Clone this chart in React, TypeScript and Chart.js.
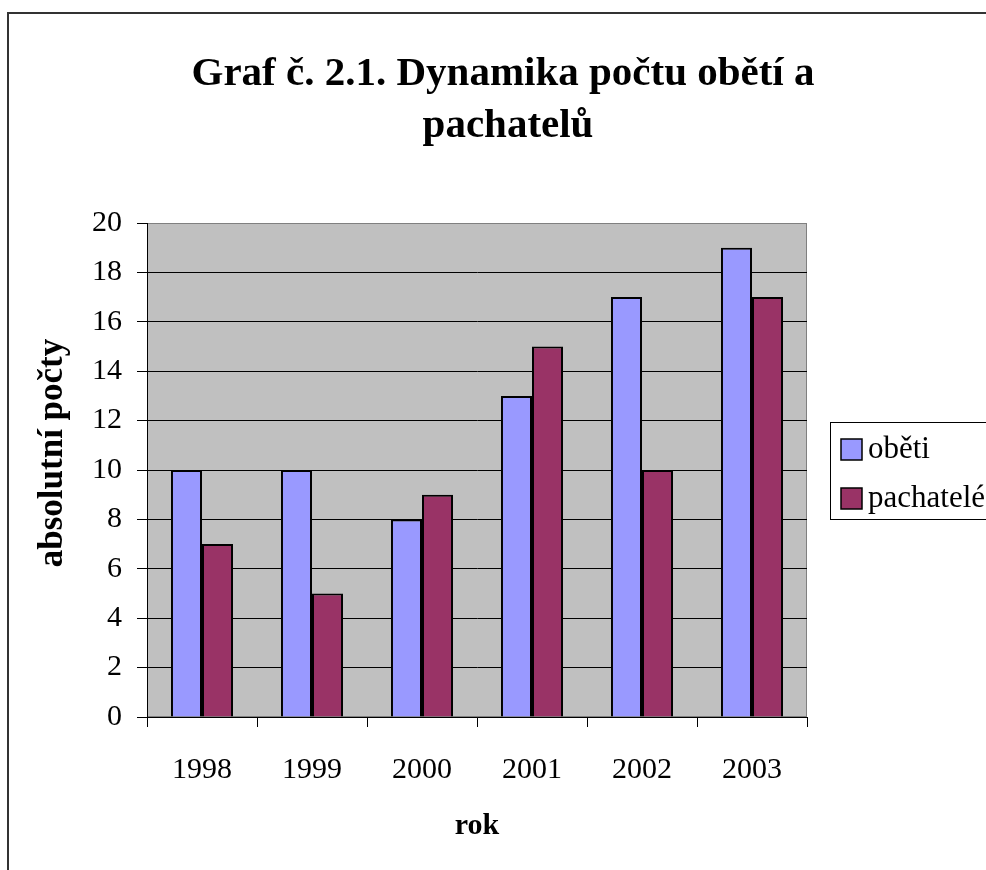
import React, { useEffect, useRef } from 'react';
import { Chart, registerables } from 'chart.js';

Chart.register(...registerables);

const years = ['1998', '1999', '2000', '2001', '2002', '2003'];
const obeti = [10, 10, 8, 13, 17, 19];
const pachatele = [7, 5, 9, 15, 10, 17];
const seriesNames = ['oběti', 'pachatelé'];
const seriesColors = ['#9999FF', '#993366'];
const titleLines = ['Graf č. 2.1. Dynamika počtu obětí a', 'pachatelů'];
const xTitle = 'rok';
const yTitle = 'absolutní počty';
const yMin = 0;
const yMax = 20;
const yStep = 2;

const SERIF = '"Liberation Serif", "Times New Roman", serif';

const decorPlugin = {
  id: 'decor',
  beforeDraw(chart: any) {
    const { ctx, chartArea: a, width, height } = chart;
    ctx.save();
    ctx.fillStyle = '#ffffff';
    ctx.fillRect(0, 0, width, height);
    // outer chart frame (cropped at right and bottom)
    ctx.strokeStyle = '#333333';
    ctx.lineWidth = 2;
    ctx.strokeRect(8, 13, width + 20, height + 20);
    // plot area background
    ctx.fillStyle = '#C0C0C0';
    ctx.fillRect(a.left, a.top, a.right - a.left, a.bottom - a.top);
    ctx.strokeStyle = '#808080';
    ctx.lineWidth = 1;
    ctx.strokeRect(a.left + 0.5, a.top + 0.5, a.right - a.left - 1, a.bottom - a.top - 1);
    ctx.restore();
  },
  afterDraw(chart: any) {
    const { ctx } = chart;
    ctx.save();
    ctx.fillStyle = '#000000';
    // title
    ctx.font = `bold 41px ${SERIF}`;
    ctx.textAlign = 'center';
    ctx.textBaseline = 'alphabetic';
    ctx.fillText(titleLines[0], 503, 85);
    ctx.fillText(titleLines[1], 508, 137);
    // y axis title
    ctx.save();
    ctx.translate(53, 453);
    ctx.rotate(-Math.PI / 2);
    ctx.font = `bold 35px ${SERIF}`;
    ctx.textAlign = 'center';
    ctx.textBaseline = 'middle';
    ctx.fillText(yTitle, 0, 0);
    ctx.restore();
    // legend
    ctx.strokeStyle = '#000000';
    ctx.lineWidth = 1;
    ctx.strokeRect(830.5, 422.5, 200, 97);
    const ds = chart.data.datasets;
    const baselines = [458, 507];
    ds.forEach((d: any, i: number) => {
      const by = baselines[i];
      ctx.fillStyle = d.backgroundColor;
      ctx.fillRect(841, by - 19, 21, 21);
      ctx.lineWidth = 1.5;
      ctx.strokeStyle = '#000000';
      ctx.strokeRect(841, by - 19, 21, 21);
      ctx.fillStyle = '#000000';
      ctx.font = `31px ${SERIF}`;
      ctx.textAlign = 'left';
      ctx.textBaseline = 'alphabetic';
      ctx.fillText(d.label, 868, by);
    });
    ctx.restore();
  },
};

export default function App() {
  const canvasRef = useRef<HTMLCanvasElement | null>(null);

  useEffect(() => {
    if (!canvasRef.current) return;
    const chart = new Chart(canvasRef.current, {
      type: 'bar',
      data: {
        labels: years,
        datasets: [
          {
            label: seriesNames[0],
            data: obeti,
            backgroundColor: seriesColors[0],
            borderColor: '#000000',
            borderWidth: 2,
          },
          {
            label: seriesNames[1],
            data: pachatele,
            backgroundColor: seriesColors[1],
            borderColor: '#000000',
            borderWidth: 2,
          },
        ],
      },
      options: {
        responsive: false,
        animation: false,
        layout: { padding: { top: 223, right: 179, left: 0, bottom: 0 } },
        datasets: {
          bar: { categoryPercentage: 0.564, barPercentage: 1 },
        },
        plugins: {
          legend: { display: false },
          title: { display: false },
          tooltip: { enabled: false },
        },
        scales: {
          x: {
            afterFit(scale: any) {
              scale.height = 153;
            },
            grid: {
              display: true,
              drawOnChartArea: false,
              drawTicks: true,
              tickLength: 10,
              color: '#000000',
              offset: true,
            },
            border: { display: true, color: '#000000', width: 1 },
            ticks: {
              color: '#000000',
              font: { family: SERIF, size: 30 },
              padding: 25,
            },
            title: {
              display: true,
              text: xTitle,
              color: '#000000',
              font: { family: SERIF, size: 30, weight: 'bold' },
              padding: { top: 0, bottom: 26 },
            },
          },
          y: {
            min: yMin,
            max: yMax,
            afterFit(scale: any) {
              scale.width = 147;
            },
            grid: {
              color: (c: any) => (c.tick && c.tick.value === yMax ? '#808080' : '#000000'),
              tickColor: '#000000',
              lineWidth: 1,
              tickLength: 10,
              drawTicks: true,
            },
            border: { display: true, color: '#000000', width: 1 },
            ticks: {
              stepSize: yStep,
              color: '#000000',
              font: { family: SERIF, size: 30 },
              padding: 15,
            },
          },
        },
      },
      plugins: [decorPlugin],
    });
    return () => chart.destroy();
  }, []);

  return (
    <div style={{ position: 'fixed', left: 0, top: 0, width: 986, height: 870, background: '#fff' }}>
      <canvas ref={canvasRef} width={986} height={870} style={{ display: 'block', width: 986, height: 870 }} />
    </div>
  );
}
